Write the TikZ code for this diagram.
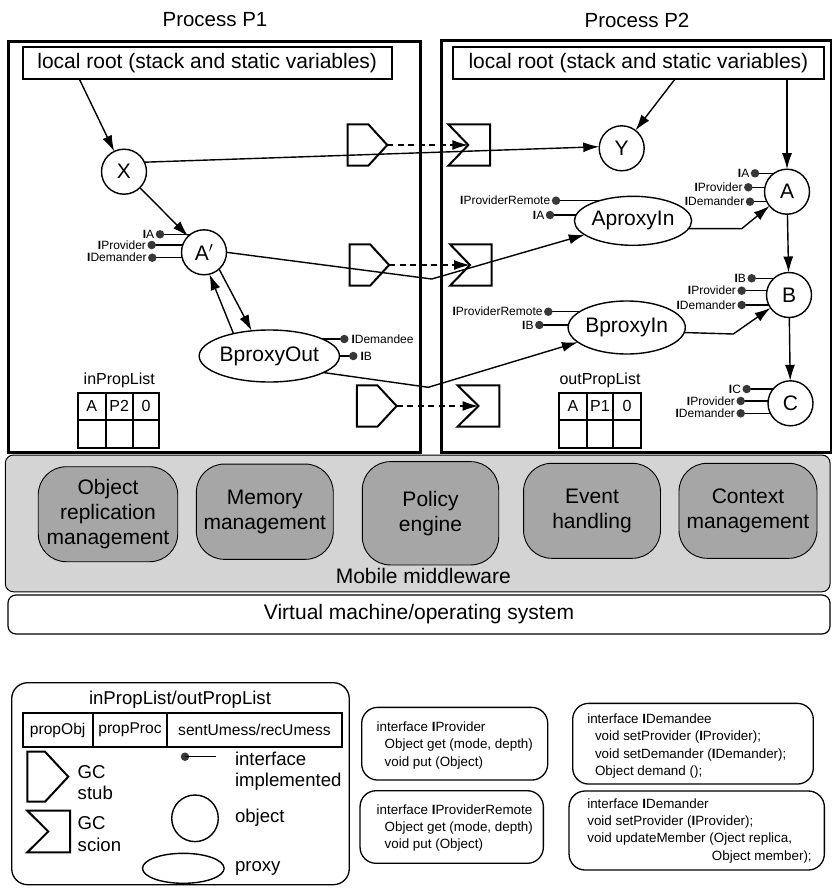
\documentclass[tikz,border=0pt]{standalone}
\usepackage{fontspec}
\setmainfont{Liberation Sans}
\usetikzlibrary{arrows.meta,shapes.geometric,calc}
\pgfdeclarelayer{background}
\pgfsetlayers{background,main}

\newcommand\setfs[2]{\fontsize{#1}{#2}\selectfont}
\newcommand\bI{\textbf{I}}

\tikzset{
  every node/.style={inner sep=0pt, outer sep=0pt},
  proc/.style={draw, line width=3pt},
  rootbox/.style={draw, line width=1.8pt, minimum height=32.3pt, font=\setfs{21}{24}},
  obj/.style={circle, draw, line width=1.4pt, fill=white, minimum size=45pt, font=\setfs{21}{24}},
  proxy/.style={ellipse, draw, line width=1.4pt, fill=white, minimum width=112pt, minimum height=52pt, font=\setfs{21}{24}},
  arr/.style={line width=1.4pt, -{Latex[length=16pt,width=10pt]}},
  link/.style={line width=1.4pt},
  darr/.style={line width=1.4pt, dash pattern=on 6pt off 4.5pt, -{Latex[length=16pt,width=10pt]}},
  ifdot/.style={circle, fill=black!78, minimum size=8.5pt},
  iflbl/.style={font=\setfs{12}{13}},
  ifline/.style={line width=1.4pt},
  gcline/.style={line width=2pt, line join=miter},
  cell/.style={draw, line width=1.8pt, font=\setfs{16}{18}},
  lcell/.style={draw, line width=1.8pt, minimum height=33.4pt, font=\setfs{15.6}{18}},
  listlbl/.style={font=\setfs{16}{18}},
  mwmod/.style={draw, line width=0.9pt, fill=black!35, rounded corners=28pt, minimum height=95pt, align=center, font=\setfs{21}{25}},
  ifbox/.style={draw, line width=1.3pt, rounded corners=16pt},
  iftext/.style={align=left, anchor=west, font=\setfs{13.4}{17.2}},
  legtext/.style={align=left, anchor=west, font=\setfs{18.6}{21.6}},
  pics/gcstub/.style n args={3}{code={
    \draw[gcline] (0,-#2/2) -- (#3,-#2/2) -- (#1,0) -- (#3,#2/2) -- (0,#2/2) -- cycle;}},
  pics/gcscion/.style n args={3}{code={
    \draw[gcline] (0,-#2/2) -- (#1,-#2/2) -- (#1,#2/2) -- (0,#2/2) -- (#3,0) -- cycle;}},
}

% interface lollipop with its label on the left / on the right
\newcommand\iflolli[5]{%
  \node[ifdot] (#1) at (#2,#3) {};
  \node[iflbl, anchor=east] at ([xshift=-1.5pt]#1.west) {#5};
  \begin{pgfonlayer}{background}\draw[ifline] (#1.center) -- (#1.center -| #4.center);\end{pgfonlayer}}
\newcommand\iflolliR[5]{%
  \node[ifdot] (#1) at (#2,#3) {};
  \node[iflbl, anchor=west] at ([xshift=3pt]#1.east) {#5};
  \begin{pgfonlayer}{background}\draw[ifline] (#1.center) -- (#1.center -| #4.center);\end{pgfonlayer}}

\begin{document}
\begin{tikzpicture}[x=1pt,y=-1pt]
\useasboundingbox (0,0) rectangle (832,889);

% ---------- process frames ----------
\node[font=\setfs{20.5}{24}] (p1title) at (215,20) {Process P1};
\node[font=\setfs{20.5}{24}] (p2title) at (637,20) {Process P2};
\node[proc, minimum width=412pt, minimum height=411pt] (P1) at (214.6,246.5) {};
\node[proc, minimum width=390pt, minimum height=412pt] (P2) at (636,246) {};

\node[rootbox, minimum width=369pt] (rootL) at (207.2,62.9) {local root (stack and static variables)};
\node[rootbox, minimum width=371.3pt] (rootR) at (638.4,62.9) {local root (stack and static variables)};

% ---------- objects and proxies ----------
\node[obj] (X) at (124,171.7) {X};
\node[obj] (Ap) at (204,252.3) {A$'$};
\node[obj] (Y) at (621.7,148.3) {Y};
\node[obj] (A) at (787,191.7) {A};
\node[obj] (B) at (789,295) {B};
\node[obj] (C) at (790.5,403.3) {C};
\node[proxy] (BpOut) at (269.3,356) {BproxyOut};
\node[proxy, minimum height=49pt] (ApIn) at (633,220.8) {AproxyIn};
\node[proxy, minimum width=113.4pt, minimum height=53pt] (BpIn) at (626.7,327.5) {BproxyIn};

% ---------- implemented interfaces ----------
\iflolli{apIA}{160}{234.3}{Ap}{\bI A}
\iflolli{apIP}{151.7}{245}{Ap}{\bI Provider}
\iflolli{apID}{152.3}{257.7}{Ap}{\bI Demander}
\iflolliR{boIDee}{344.3}{339}{BpOut}{\bI Demandee}
\iflolliR{boIB}{353.3}{356}{BpOut}{\bI B}
\iflolli{aIA}{755}{173.3}{A}{\bI A}
\iflolli{aIP}{748.3}{187.3}{A}{\bI Provider}
\iflolli{aID}{750}{201.7}{A}{\bI Demander}
\iflolli{aiIPR}{556}{200.7}{ApIn}{\bI ProviderRemote}
\iflolli{aiIA}{550}{215}{ApIn}{\bI A}
\iflolli{bIB}{751.7}{278.3}{B}{\bI B}
\iflolli{bIP}{741.7}{290.7}{B}{\bI Provider}
\iflolli{bID}{741.7}{305}{B}{\bI Demander}
\iflolli{biIPR}{548.3}{311.7}{BpIn}{\bI ProviderRemote}
\iflolli{biIB}{539.3}{325}{BpIn}{\bI B}
\iflolli{cIC}{746.7}{389}{C}{\bI C}
\iflolli{cIP}{740.7}{401}{C}{\bI Provider}
\iflolli{cID}{740.7}{413.3}{C}{\bI Demander}

% ---------- GC stubs and scions ----------
\pic at (347.7,145) {gcstub={39.6}{41.4}{20.6}};
\pic at (349.5,265) {gcstub={39.6}{41.4}{20.6}};
\pic at (356.8,406) {gcstub={39.8}{41.4}{20.6}};
\pic at (448.3,145) {gcscion={41.7}{41.4}{20}};
\pic at (450,265) {gcscion={41.5}{41.4}{20}};
\pic at (457.5,406) {gcscion={41.8}{41.4}{21}};
\coordinate (s1) at (387.3,145);
\coordinate (s2) at (389.1,265);
\coordinate (s3) at (396.6,406);
\coordinate (c1) at (468.3,145);
\coordinate (c2) at (470,265);
\coordinate (c3) at (478.5,406);
\draw[darr] (s1) -- (c1);
\draw[darr] (s2) -- (c2);
\draw[darr] (s3) -- (c3);

% ---------- references ----------
\coordinate (j1) at (431.7,279);
\coordinate (j2) at (428.3,387.3);
\coordinate (k1) at (741.7,228.7);
\coordinate (k2) at (733.3,334);
\draw[arr] ($(rootL.south west)+(56.6,0)$) -- (X);
\draw[arr] (X) -- (Ap);
\draw[arr] (X.25) -- (Y.176);
\draw[arr] (Ap.-48) -- (BpOut.125);
\draw[arr] (BpOut.148) -- (Ap.-76);
\draw[arr] (Ap.east) -- (j1) -- (ApIn);
\draw[arr] (BpOut.-17) -- (j2) -- (BpIn);
\draw[arr] ($(rootR.south west)+(222.3,0)$) -- (Y);
\draw[arr] (A |- rootR.south) -- (A);
\draw[arr] (ApIn.-8) -- (k1) -- (A);
\draw[arr] (BpIn.-5) -- (k2) -- (B);
\draw[arr] (A) -- (B);
\draw[arr] (B) -- (C);

% ---------- propagation lists ----------
\node[listlbl] (inPL) at (119.3,380) {inPropList};
\node[cell, minimum width=28pt, minimum height=27.3pt] (in11) at (91.7,406.4) {A};
\node[cell, minimum width=27pt, minimum height=27.3pt] (in12) at (119.2,406.4) {P2};
\node[cell, minimum width=26.6pt, minimum height=27.3pt] (in13) at (146,406.4) {0};
\node[cell, minimum width=28pt, minimum height=27.7pt] (in21) at (91.7,433.9) {};
\node[cell, minimum width=27pt, minimum height=27.7pt] (in22) at (119.2,433.9) {};
\node[cell, minimum width=26.6pt, minimum height=27.7pt] (in23) at (146,433.9) {};

\node[listlbl] (outPL) at (600,380.7) {outPropList};
\node[cell, minimum width=27.4pt, minimum height=27.3pt] (out11) at (573,406.4) {A};
\node[cell, minimum width=26.6pt, minimum height=27.3pt] (out12) at (600,406.4) {P1};
\node[cell, minimum width=27.4pt, minimum height=27.3pt] (out13) at (627,406.4) {0};
\node[cell, minimum width=27.4pt, minimum height=27.7pt] (out21) at (573,433.9) {};
\node[cell, minimum width=26.6pt, minimum height=27.7pt] (out22) at (600,433.9) {};
\node[cell, minimum width=27.4pt, minimum height=27.7pt] (out23) at (627,433.9) {};

% ---------- middleware ----------
\node[draw, line width=1pt, fill=black!17, rounded corners=8pt, minimum width=824.7pt, minimum height=136.7pt] (mw) at (417.7,523.4) {};
\node[mwmod, minimum width=139.5pt] (orm) at (108,514.2) {Object\\replication\\management};
\node[mwmod, minimum width=136.9pt, minimum height=95.3pt] (mem) at (264.8,511.7) {Memory\\management};
\node[mwmod, minimum width=136.4pt, minimum height=103.3pt] (pol) at (430.5,513.3) {Policy\\engine};
\node[mwmod, minimum width=136.9pt] (evt) at (592,510.8) {Event\\handling};
\node[mwmod, minimum width=138pt] (ctx) at (748,510.8) {Context\\management};
\node[font=\setfs{21}{24}] (mwlbl) at (423.3,576) {Mobile middleware};
\node[draw, line width=1.2pt, fill=white, rounded corners=8pt, minimum width=822pt, minimum height=39pt, font=\setfs{21}{24}] (vm) at (419,614.5) {Virtual machine/operating system};

% ---------- legend ----------
\node[draw, line width=1.3pt, rounded corners=16pt, minimum width=337.6pt, minimum height=202pt] (legend) at (180.5,783.7) {};
\node[font=\setfs{18.6}{21}] (legtitle) at (180,699.3) {inPropList/outPropList};
\node[lcell, minimum width=70pt] (lc1) at (57.7,730) {propObj};
\node[lcell, minimum width=74.6pt] (lc2) at (130,730) {propProc};
\node[lcell, minimum width=174.4pt] (lc3) at (254.5,730) {sentUmess/recUmess};
\pic at (27.3,776.7) {gcstub={41}{50}{17.7}};
\node[legtext] (lstub) at (77.7,782.5) {GC\\stub};
\pic at (27.3,831.5) {gcscion={42.7}{41.6}{21}};
\node[legtext] (lscion) at (77.7,833.8) {GC\\scion};
\node[ifdot] (ldot) at (185,756.7) {};
\coordinate (lend) at (216,756.7);
\draw[ifline] (ldot.center) -- (lend);
\node[legtext] (lif) at (235,771.2) {interface\\implemented};
\node[obj, minimum size=46.6pt] (lobj) at (195,818.3) {};
\node[legtext] (lobjt) at (235,818) {object};
\node[ellipse, draw, line width=1.4pt, minimum width=81.6pt, minimum height=30pt] (lproxy) at (183.3,868.3) {};
\node[legtext] (lproxyt) at (235,868) {proxy};

% ---------- interface definitions ----------
\node[ifbox, minimum width=186pt, minimum height=72.7pt] (bIProv) at (454.7,743.7) {};
\node[iftext] (tIProv) at (376.7,745.5) {interface \bI Provider\\\hspace*{8pt}Object get (mode, depth)\\\hspace*{8pt}void put (Object)};
\node[ifbox, minimum width=183.3pt, minimum height=72.6pt] (bIPR) at (451.7,827) {};
\node[iftext] (tIPR) at (376.7,828) {interface \bI ProviderRemote\\\hspace*{8pt}Object get (mode, depth)\\\hspace*{8pt}void put (Object)};
\node[ifbox, minimum width=240.6pt, minimum height=80.7pt] (bIDee) at (693,743.7) {};
\node[iftext] (tIDee) at (587.3,746) {interface \bI Demandee\\\hspace*{7.7pt}void setProvider (\bI Provider);\\\hspace*{7.7pt}void setDemander (\bI Demander);\\\hspace*{7.7pt}Object demand ();};
\node[ifbox, minimum width=255.3pt, minimum height=79pt] (bIDer) at (696.7,830.5) {};
\node[iftext] (tIDer) at (587.3,822) {interface \bI Demander\\void setProvider (\bI Provider);\\void updateMember (Oject replica,};
\node[font=\setfs{13.4}{17.2}, anchor=east] (tIDer2) at (811.7,857.3) {Object member);};

\end{tikzpicture}
\end{document}
